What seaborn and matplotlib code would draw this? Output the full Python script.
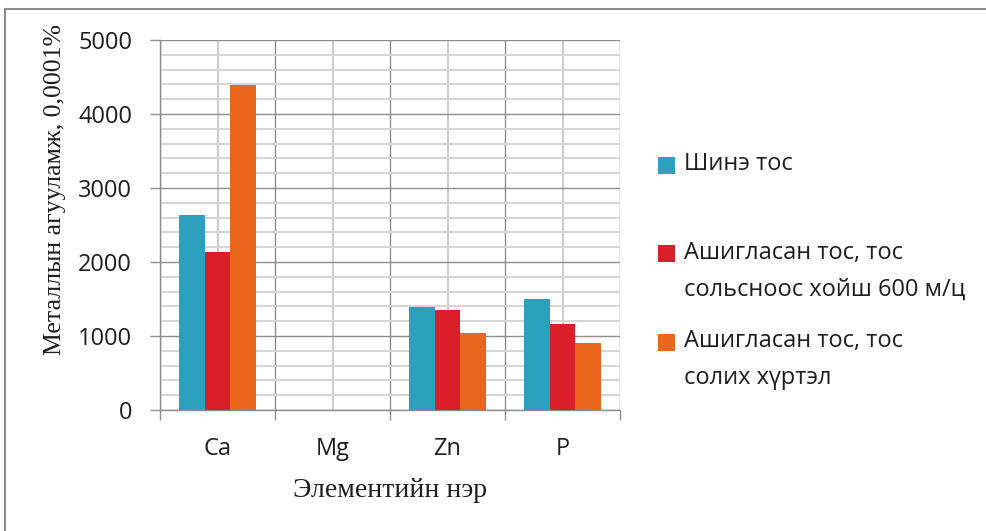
import matplotlib
matplotlib.use("Agg")
import matplotlib.pyplot as plt
from matplotlib.patches import Rectangle
from matplotlib.ticker import MultipleLocator, FixedLocator
import seaborn as sns
import pandas as pd

# Element names along the x axis
elements = ["Ca", "Mg", "Zn", "P"]

# Metal content per sample, in units of 0.0001 %
new_oil = [2640, 0, 1395, 1495]
used_600h = [2130, 0, 1355, 1160]
used_before_change = [4390, 0, 1035, 910]

series_names = [
    "Шинэ тос",
    "Ашигласан тос, тос\nсольсноос хойш 600 м/ц",
    "Ашигласан тос, тос\nсолих хүртэл",
]
series_colors = ["#2CA1BE", "#DA1F2A", "#EA661D"]

rows = []
for name, values in zip(series_names, [new_oil, used_600h, used_before_change]):
    for el, v in zip(elements, values):
        rows.append({"element": el, "series": name, "value": v})
df = pd.DataFrame(rows)

sns.set_theme(style="white")
sans = ["Open Sans", "DejaVu Sans"]
serif = ["Liberation Serif", "DejaVu Serif"]
plt.rcParams["font.family"] = sans
text_color = "#1e1e1e"

W, H = 986, 531
fig = plt.figure(figsize=(W / 100, H / 100), dpi=100)
ax = fig.add_axes([160 / W, 1 - 410 / H, 460 / W, 370 / H])

sns.barplot(
    data=df, x="element", y="value", hue="series", order=elements,
    hue_order=series_names, palette=series_colors, saturation=1,
    width=0.665, gap=0, ax=ax, legend=False, zorder=3,
)
for p in ax.patches:
    p.set_linewidth(0)

ax.set_xlim(-0.5, len(elements) - 0.5)
ax.set_ylim(0, 5000)

# Gridlines: darker at thousands and category boundaries, lighter in between
ax.yaxis.set_major_locator(MultipleLocator(1000))
ax.yaxis.set_minor_locator(MultipleLocator(200))
ax.xaxis.set_minor_locator(FixedLocator([i - 0.5 for i in range(len(elements) + 1)]))
ax.grid(which="major", axis="y", color="#8e8e8e", linewidth=1.0, zorder=0)
ax.grid(which="minor", axis="y", color="#d6d6d6", linewidth=1.5, zorder=0)
ax.grid(which="minor", axis="x", color="#8e8e8e", linewidth=1.0, zorder=0)
ax.grid(which="major", axis="x", color="#cdcdcd", linewidth=1.5, zorder=0)
ax.set_axisbelow(True)

for side in ["top", "right"]:
    ax.spines[side].set_visible(False)
for side in ["left", "bottom"]:
    ax.spines[side].set_color("#8e8e8e")
    ax.spines[side].set_linewidth(1.0)

ax.tick_params(axis="y", which="major", length=7, width=1, color="#8e8e8e",
               direction="out", left=True, labelsize=17, pad=13, labelcolor=text_color)
ax.tick_params(axis="y", which="minor", length=0)
ax.tick_params(axis="x", which="major", length=0, labelsize=17, pad=19.5, labelcolor=text_color)
ax.tick_params(axis="x", which="minor", length=7, width=1, color="#8e8e8e",
               direction="out", bottom=True)

ax.set_xlabel("Элементийн нэр", fontsize=20, family=serif, color=text_color, va="center")
ax.xaxis.set_label_coords(0.5, -0.217)
ax.set_ylabel("Металлын агууламж, 0,0001%", fontsize=18.5, family=serif, color=text_color,
              va="center")
ax.yaxis.set_label_coords(-0.228, 0.595)

# Legend on the right: colour square beside the first line of each entry
legend_x_px, square_px, text_x_px = 658, 17, 684
entry_y_px = [164, 253, 341]
line_step_px = 37
for name, color, y0 in zip(series_names, series_colors, entry_y_px):
    fig.patches.append(Rectangle(
        (legend_x_px / W, 1 - (y0 + square_px / 2 + 1) / H), square_px / W, square_px / H,
        transform=fig.transFigure, facecolor=color, edgecolor="none"))
    for k, line in enumerate(name.split("\n")):
        fig.text(text_x_px / W, 1 - (y0 + k * line_step_px) / H, line,
                 fontsize=17, va="center", ha="left", color=text_color)

# Outer chart border
fig.patches.append(Rectangle((4.5 / W, -0.1), 1.2, 1 - 9 / H + 0.1,
                             transform=fig.transFigure, fill=False,
                             edgecolor="#8a8a8a", linewidth=1.5))

fig.savefig("out.png", dpi=100)
